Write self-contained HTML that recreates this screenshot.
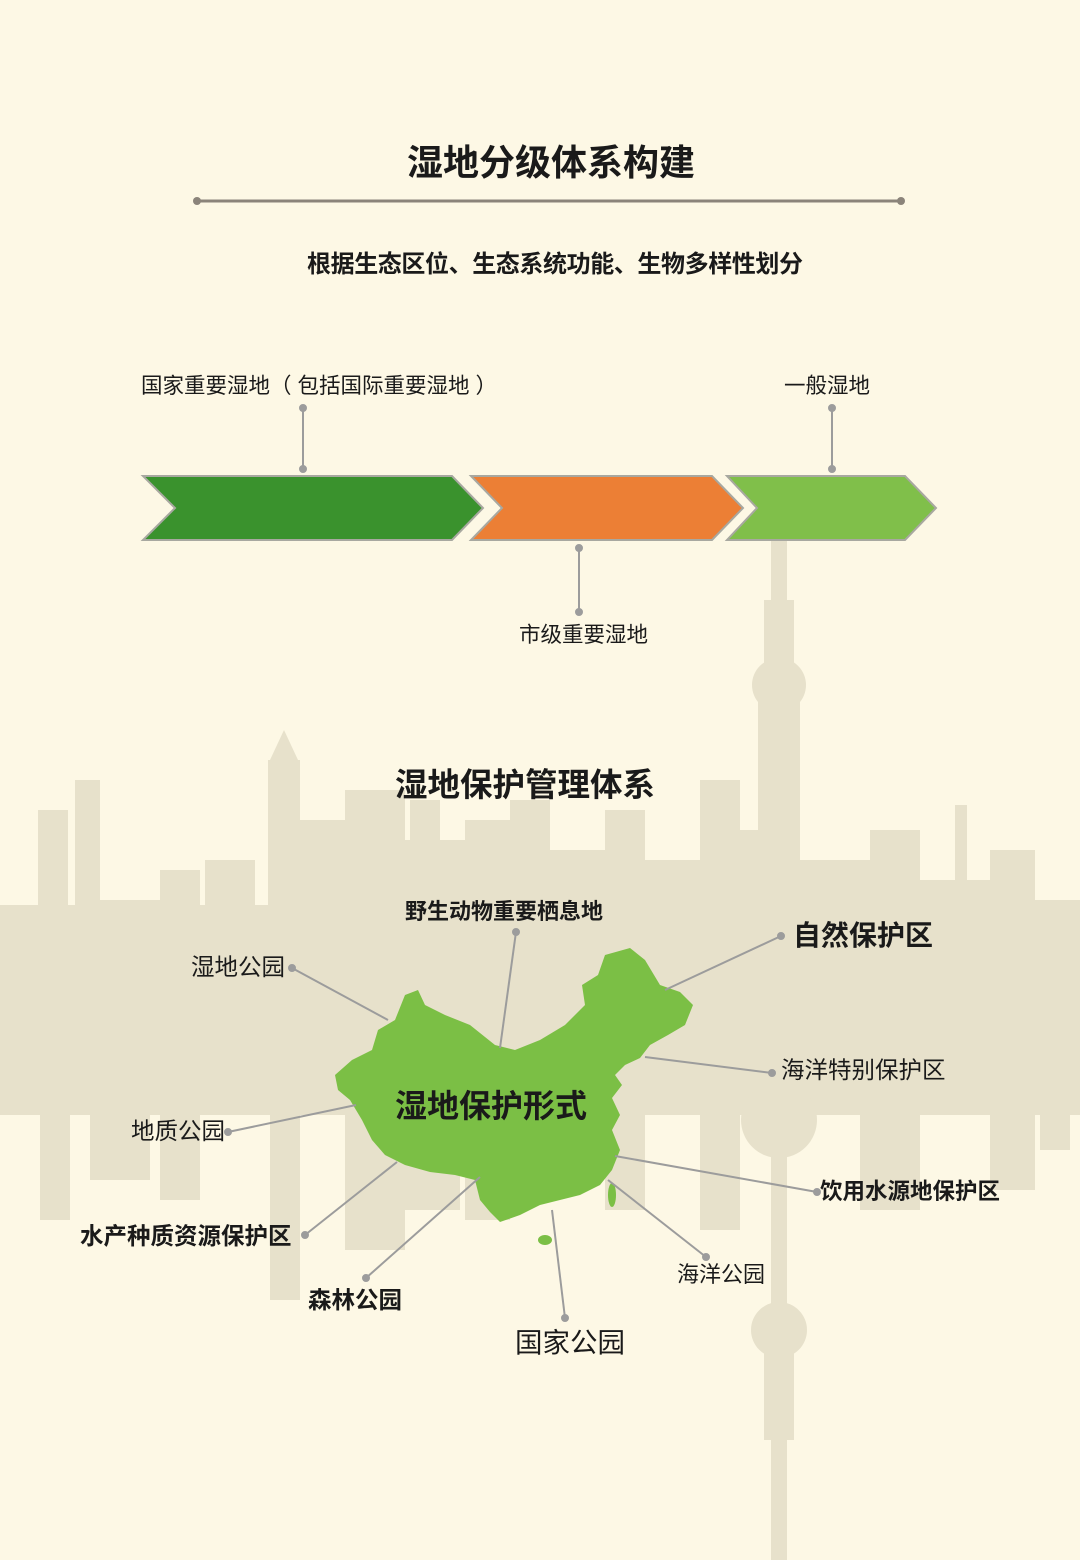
<!DOCTYPE html>
<html><head><meta charset="utf-8"><style>
html,body{margin:0;padding:0}
body{width:1080px;height:1560px;background:#fdf8e5;position:relative;overflow:hidden;font-family:"Liberation Sans","Noto Sans CJK SC",sans-serif;color:#1a1a1a}
.t{position:absolute;white-space:nowrap;line-height:1}
.b{font-weight:bold}
</style></head><body>
<svg width="1080" height="1560" style="position:absolute;left:0;top:0">
<g fill="#e7e1cb">
<rect x="0" y="905" width="1080" height="150"/>
<rect x="38" y="810" width="30" height="250"/>
<rect x="75" y="780" width="25" height="280"/>
<rect x="100" y="900" width="60" height="160"/>
<rect x="160" y="870" width="40" height="190"/>
<rect x="205" y="860" width="50" height="200"/>
<rect x="268" y="760" width="32" height="300"/>
<polygon points="270,760 284,730 298,760"/>
<rect x="300" y="820" width="45" height="240"/>
<rect x="345" y="790" width="60" height="270"/>
<rect x="405" y="840" width="60" height="220"/>
<rect x="465" y="820" width="45" height="240"/>
<rect x="510" y="800" width="40" height="260"/>
<rect x="550" y="850" width="55" height="210"/>
<rect x="605" y="810" width="40" height="250"/>
<rect x="645" y="860" width="60" height="200"/>
<rect x="700" y="780" width="40" height="280"/>
<rect x="740" y="830" width="60" height="230"/>
<rect x="800" y="860" width="70" height="200"/>
<rect x="870" y="830" width="50" height="230"/>
<rect x="920" y="880" width="70" height="180"/>
<rect x="990" y="850" width="45" height="210"/>
<rect x="1035" y="900" width="45" height="160"/>
<rect x="410" y="800" width="30" height="60"/>
<rect x="955" y="805" width="12" height="80"/>
<rect x="0" y="1055" width="1080" height="60"/>
<rect x="40" y="1100" width="30" height="120"/>
<rect x="90" y="1100" width="60" height="80"/>
<rect x="160" y="1100" width="40" height="100"/>
<rect x="270" y="1100" width="30" height="200"/>
<rect x="345" y="1100" width="60" height="150"/>
<rect x="405" y="1100" width="55" height="110"/>
<rect x="465" y="1100" width="45" height="120"/>
<rect x="605" y="1100" width="40" height="110"/>
<rect x="700" y="1100" width="40" height="130"/>
<rect x="860" y="1100" width="60" height="110"/>
<rect x="990" y="1100" width="45" height="90"/>
<rect x="1040" y="1100" width="30" height="50"/>
<rect x="771" y="540" width="16" height="1020"/>
<rect x="764" y="600" width="30" height="80"/>
<circle cx="779" cy="685" r="27"/>
<rect x="758" y="700" width="42" height="420"/>
<circle cx="779" cy="1120" r="38"/>
<circle cx="779" cy="1330" r="28"/>
<rect x="764" y="1330" width="30" height="110"/>
</g>
<line x1="197" y1="201" x2="901" y2="201" stroke="#8b847a" stroke-width="3"/>
<circle cx="197" cy="201" r="4" fill="#8b847a"/><circle cx="901" cy="201" r="4" fill="#8b847a"/>
<g stroke="#a8a8a0" stroke-width="2">
<polygon points="143,476 452,476 483,508 452,540 143,540 175,508" fill="#3a922d"/>
<polygon points="471,476 712,476 743,508 712,540 471,540 502,508" fill="#ec7f35"/>
<polygon points="727,476 905,476 936,508 905,540 727,540 757,508" fill="#80bf4a"/>
</g>
<g stroke="#9c9c9c" stroke-width="2" fill="#9c9c9c">
<line x1="303" y1="408" x2="303" y2="469"/><circle cx="303" cy="408" r="3"/><circle cx="303" cy="469" r="3"/>
<line x1="832" y1="408" x2="832" y2="469"/><circle cx="832" cy="408" r="3"/><circle cx="832" cy="469" r="3"/>
<line x1="579" y1="548" x2="579" y2="612"/><circle cx="579" cy="548" r="3"/><circle cx="579" cy="612" r="3"/>
</g>
<path fill="#7bbf45" d="M335,1075 L352,1060 L372,1050 L378,1030 L395,1020 L405,995 L418,990 L425,1005 L445,1015 L470,1025 L495,1045 L515,1050 L540,1040 L565,1025 L585,1005 L582,985 L598,975 L605,955 L630,948 L645,960 L660,985 L680,992 L693,1005 L685,1025 L668,1035 L650,1045 L640,1058 L625,1065 L615,1075 L622,1085 L612,1098 L620,1115 L612,1130 L620,1150 L612,1170 L600,1185 L580,1195 L560,1200 L540,1205 L520,1215 L500,1222 L490,1212 L480,1200 L475,1180 L455,1175 L430,1172 L405,1165 L385,1155 L372,1140 L362,1120 L350,1100 L338,1090 Z"/>
<ellipse cx="545" cy="1240" rx="7" ry="5" fill="#7bbf45"/>
<ellipse cx="612" cy="1195" rx="4" ry="12" fill="#7bbf45"/>
<g stroke="#9c9c9c" stroke-width="2" fill="#9c9c9c">
<line x1="292" y1="968" x2="388" y2="1020"/><circle cx="292" cy="968" r="3"/>
<line x1="516" y1="932" x2="500" y2="1048"/><circle cx="516" cy="932" r="3"/>
<line x1="781" y1="936" x2="665" y2="990"/><circle cx="781" cy="936" r="3"/>
<line x1="772" y1="1073" x2="645" y2="1057"/><circle cx="772" cy="1073" r="3"/>
<line x1="228" y1="1132" x2="356" y2="1105"/><circle cx="228" cy="1132" r="3"/>
<line x1="817" y1="1192" x2="615" y2="1156"/><circle cx="817" cy="1192" r="3"/>
<line x1="305" y1="1235" x2="397" y2="1162"/><circle cx="305" cy="1235" r="3"/>
<line x1="706" y1="1257" x2="608" y2="1180"/><circle cx="706" cy="1257" r="3"/>
<line x1="366" y1="1278" x2="480" y2="1177"/><circle cx="366" cy="1278" r="3"/>
<line x1="565" y1="1318" x2="552" y2="1210"/><circle cx="565" cy="1318" r="3"/>
</g>
</svg>
<div class="t b" style="left:407px;top:145px;font-size:36px">湿地分级体系构建</div>
<div class="t b" style="left:307px;top:253px;font-size:24px;letter-spacing:-0.4px">根据生态区位、生态系统功能、生物多样性划分</div>
<div class="t" style="left:141px;top:376px;font-size:21.5px">国家重要湿地（ 包括国际重要湿地 ）</div>
<div class="t" style="left:784px;top:376px;font-size:21.5px">一般湿地</div>
<div class="t" style="left:519px;top:625px;font-size:21.5px">市级重要湿地</div>
<div class="t b" style="left:395px;top:769px;font-size:32.5px">湿地保护管理体系</div>
<div class="t b" style="left:405px;top:901px;font-size:22px">野生动物重要栖息地</div>
<div class="t b" style="left:793px;top:922px;font-size:28px">自然保护区</div>
<div class="t" style="left:191px;top:956px;font-size:23.5px">湿地公园</div>
<div class="t" style="left:781px;top:1059px;font-size:23.5px">海洋特别保护区</div>
<div class="t b" style="left:395px;top:1090px;font-size:32px">湿地保护形式</div>
<div class="t" style="left:131px;top:1120px;font-size:23.5px">地质公园</div>
<div class="t b" style="left:820px;top:1181px;font-size:22.5px">饮用水源地保护区</div>
<div class="t b" style="left:80px;top:1225px;font-size:23.5px">水产种质资源保护区</div>
<div class="t" style="left:677px;top:1264px;font-size:22px">海洋公园</div>
<div class="t b" style="left:308px;top:1289px;font-size:23.5px">森林公园</div>
<div class="t" style="left:515px;top:1329px;font-size:27.5px">国家公园</div>
</body></html>
